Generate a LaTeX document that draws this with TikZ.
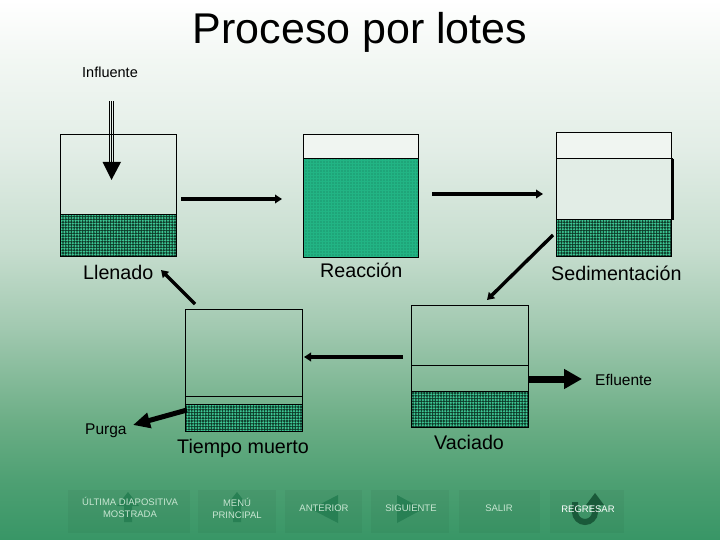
\documentclass[tikz,border=0pt]{standalone}
\usepackage{fontspec}
\setmainfont{Liberation Sans}
\usetikzlibrary{arrows.meta,patterns.meta}
\definecolor{bgA}{RGB}{255,255,255}
\definecolor{bgB}{RGB}{242,247,243}
\definecolor{bgC}{RGB}{226,237,230}
\definecolor{bgD}{RGB}{198,221,206}
\definecolor{bgE}{RGB}{160,200,175}
\definecolor{bgF}{RGB}{108,174,134}
\definecolor{bgG}{RGB}{78,160,115}
\definecolor{bgH}{RGB}{56,150,102}
\definecolor{sludgeG}{RGB}{62,200,150}
\definecolor{sludgeBase}{RGB}{14,58,40}
\definecolor{reactG}{RGB}{34,180,132}
\definecolor{topW}{RGB}{240,245,241}
\definecolor{navText}{RGB}{200,230,210}
\definecolor{navIcon}{RGB}{40,128,84}
\definecolor{navDark}{RGB}{26,90,58}
\begin{document}
\begin{tikzpicture}[x=1pt,y=-1pt,
  tankbox/.style={draw=black,line width=1pt,inner sep=0pt,fill=none},
  sludge/.style={preaction={fill=sludgeBase},pattern={Dots[distance=2.8pt,radius=1.2pt]},pattern color=sludgeG},
  react/.style={preaction={fill=reactG},pattern={Dots[distance=3pt,radius=0.4pt]},pattern color=black},
  flow/.style={line width=3.4pt,-{Triangle[length=7pt,width=8.5pt]}},
  lbl/.style={font=\fontsize{19.7}{22}\selectfont,anchor=base west,inner sep=0pt},
  small/.style={font=\fontsize{15.5}{18}\selectfont,anchor=base west,inner sep=0pt},
  navbtn/.style={fill=black,fill opacity=0.04,draw=none},
  navtxt/.style={font=\fontsize{9.5}{12}\selectfont,text=navText,align=center,inner sep=0pt},
  icon/.style={fill=navIcon,draw=none}]
\useasboundingbox (0,0) rectangle (720,540);
% background
\fill[top color=bgA,bottom color=bgB] (0,0) rectangle (720,61);
\fill[top color=bgB,bottom color=bgC] (0,60) rectangle (720,151);
\fill[top color=bgC,bottom color=bgD] (0,150) rectangle (720,251);
\fill[top color=bgD,bottom color=bgE] (0,250) rectangle (720,331);
\fill[top color=bgE,bottom color=bgF] (0,330) rectangle (720,421);
\fill[top color=bgF,bottom color=bgG] (0,420) rectangle (720,481);
\fill[top color=bgG,bottom color=bgH] (0,480) rectangle (720,540);
% title
\node[font=\fontsize{43}{48}\selectfont,anchor=base,inner sep=0pt] (title) at (360,44) {Proceso por lotes};
% tank 1 Llenado
\path[sludge] (60,215) rectangle (176,256);
\draw[line width=1pt] (60,215) -- (176,215);
\node[tankbox,minimum width=116pt,minimum height=121pt] (t1) at (118,195.5) {};
\foreach \xx in {109,111,113} \draw[line width=0.9pt] (\xx,101) -- (\xx,163);
\fill (102.5,162) -- (121,162) -- (111.5,180) -- cycle;
\node[small,font=\fontsize{14.5}{17}\selectfont] (inf) at (82,78) {Influente};
% tank 2 Reacción
\path[fill=topW] (303,135) rectangle (418,159);
\path[react] (303,159) rectangle (418,257);
\draw[line width=1pt] (303,159) -- (418,159);
\node[tankbox,minimum width=115pt,minimum height=122pt] (t2) at (360.5,196) {};
% tank 3 Sedimentación
\path[fill=topW] (556,133) rectangle (671.5,159);
\path[fill=bgC] (556,159) rectangle (671.5,220);
\path[sludge] (556,220) rectangle (671.5,256.5);
\node[tankbox,minimum width=115.5pt,minimum height=123.5pt] (t3) at (613.75,194.75) {};
\draw[line width=1pt] (556,159) -- (672.5,159);
\draw[line width=2pt] (672.5,159) -- (672.5,220);
\draw[line width=1pt] (556,220) -- (673.5,220);
% tank 4 Tiempo muerto
\path[sludge] (185.5,404) rectangle (302.5,431);
\node[tankbox,minimum width=117pt,minimum height=122pt] (t4) at (244,370) {};
\draw[line width=1pt] (185.5,396) -- (302.5,396);
\draw[line width=1pt] (185.5,404) -- (302.5,404);
% tank 5 Vaciado
\path[sludge] (411,391.5) rectangle (529,427.5);
\node[tankbox,minimum width=117pt,minimum height=122.5pt] (t5) at (469.5,366.25) {};
\draw[line width=1pt] (411,365) -- (528,365);
\draw[line width=1pt] (411,391.5) -- (529,391.5);
% labels
\node[lbl] (l1) at (83,279) {Llenado};
\node[lbl] (l2) at (320,277) {Reacción};
\node[lbl] (l3) at (551,280) {Sedimentación};
\node[lbl] (l4) at (177,453) {Tiempo muerto};
\node[lbl] (l5) at (434,449) {Vaciado};
\node[small] (efl) at (595,385) {Efluente};
\node[small] (pur) at (85,434) {Purga};
% connectors
\coordinate (a1s) at (181,199); \coordinate (a1e) at (282,199);
\coordinate (a2s) at (432,194); \coordinate (a2e) at (543,194);
\coordinate (a3s) at (553,235); \coordinate (a3e) at (487,300);
\coordinate (a4s) at (403,357); \coordinate (a4e) at (304,357);
\coordinate (a5s) at (195,304); \coordinate (a5e) at (161,270);
\draw[flow] (a1s) -- (a1e);
\draw[flow] (a2s) -- (a2e);
\draw[flow] (a3s) -- (a3e);
\draw[flow] (a4s) -- (a4e);
\draw[flow] (a5s) -- (a5e);
\coordinate (es) at (528,379); \coordinate (ee) at (582,379);
\draw[line width=7pt,-{Triangle[length=18pt,width=19pt]}] (es) -- (ee);
\coordinate (ps) at (187,410); \coordinate (pe) at (133,425);
\draw[line width=5pt,-{Triangle[length=17pt,width=15pt]}] (ps) -- (pe);
% navigation buttons
\path[navbtn] (68,490) rectangle (190,533);
\path[navbtn] (198,490) rectangle (276,533);
\path[navbtn] (285,490) rectangle (362,533);
\path[navbtn] (371,490) rectangle (449,533);
\path[navbtn] (459,490) rectangle (540,533);
\path[navbtn] (550,490) rectangle (624,533);
\fill[icon] (124,522) -- (132,522) -- (132,506) -- (139,506) -- (128,492) -- (117,506) -- (124,506) -- cycle;
\fill[icon] (233,522) -- (241,522) -- (241,506) -- (248,506) -- (237,492) -- (226,506) -- (233,506) -- cycle;
\fill[icon] (311,509) -- (338,495) -- (338,523) -- cycle;
\fill[icon] (397,495) -- (423,509) -- (397,523) -- cycle;
\draw[navDark,line width=6pt] (575,502) -- (575,512) arc[start angle=180,end angle=0,radius=10] -- (595,504);
\fill[navDark] (586,505) -- (595,493) -- (604,505) -- cycle;
\node[navtxt] (n1) at (130,507) {ÚLTIMA DIAPOSITIVA\\MOSTRADA};
\node[navtxt] (n2) at (237,508) {MENÚ\\PRINCIPAL};
\node[navtxt] (n3) at (324,508) {ANTERIOR};
\node[navtxt] (n4) at (411,508) {SIGUIENTE};
\node[navtxt] (n5) at (499,508) {SALIR};
\node[navtxt,text=white] (n6) at (588,509) {REGRESAR};
\end{tikzpicture}
\end{document}
